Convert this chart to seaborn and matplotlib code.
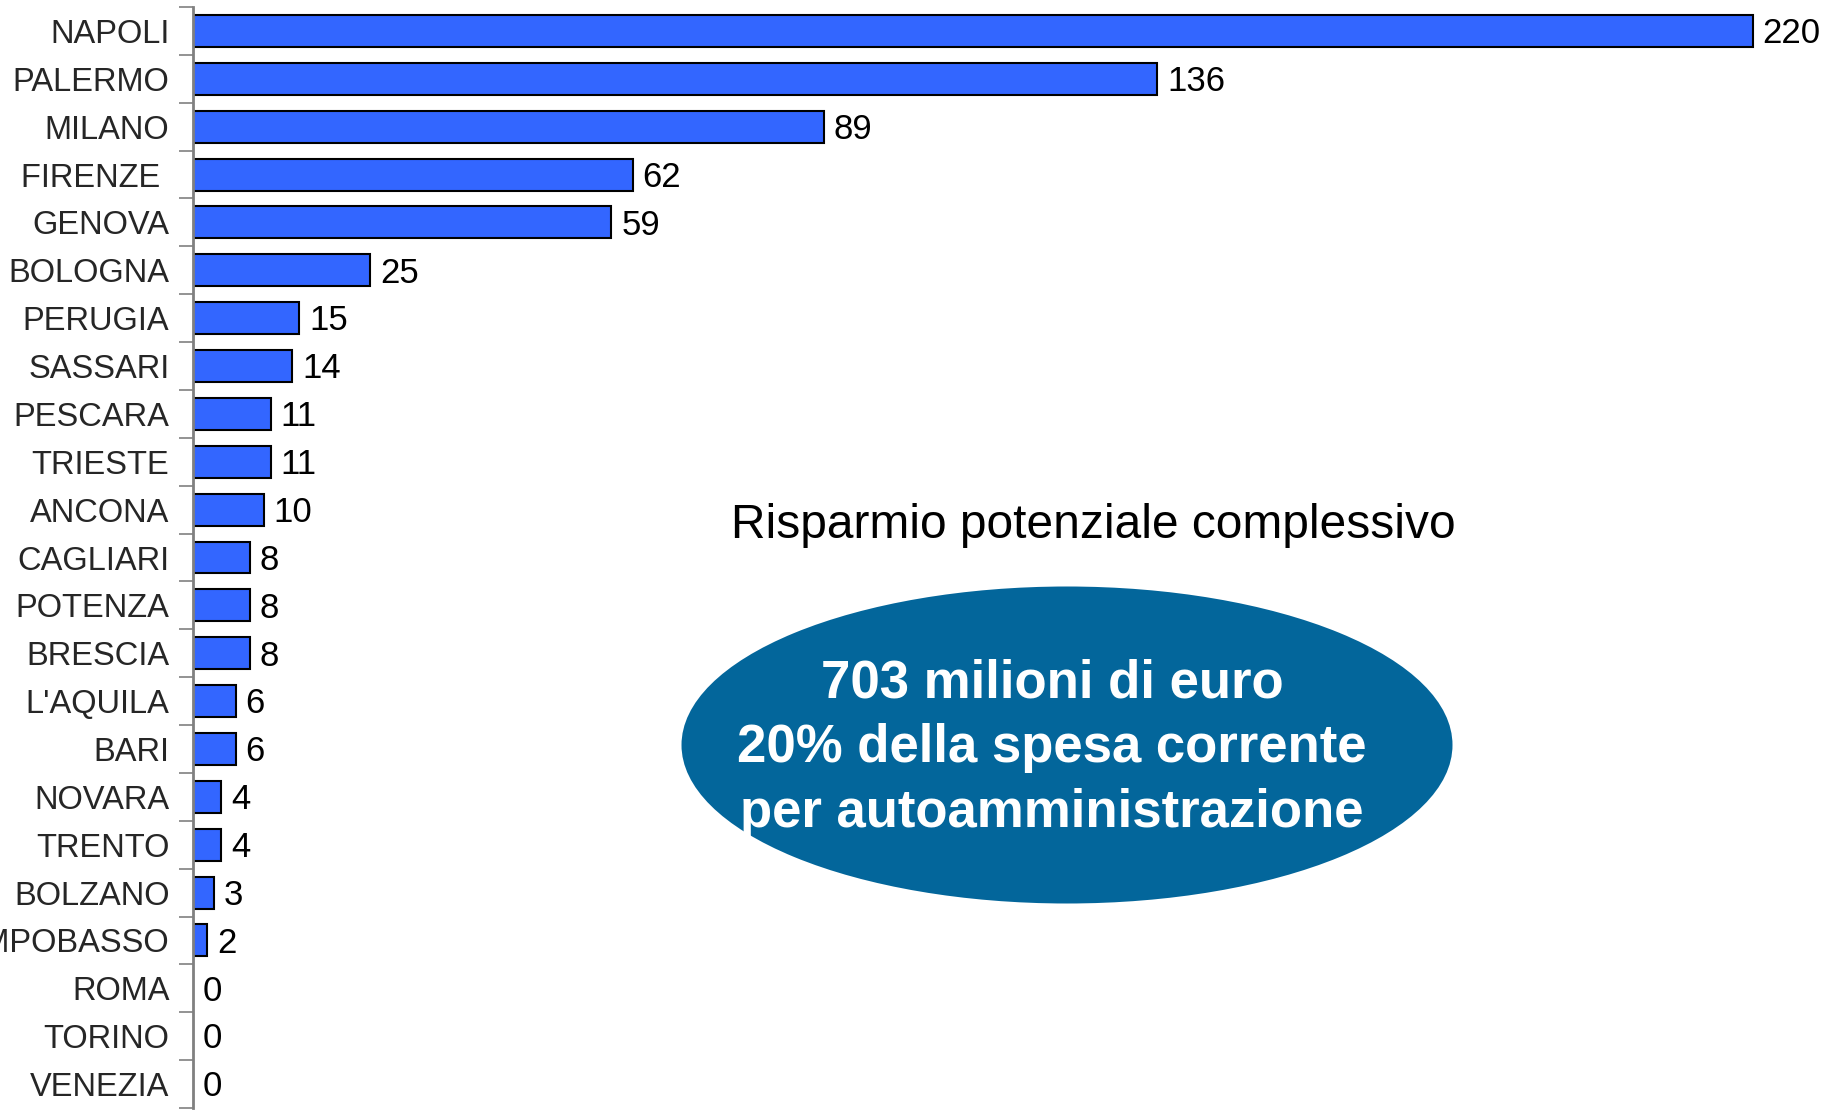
import matplotlib
matplotlib.use("Agg")
import matplotlib.pyplot as plt
import matplotlib.patches as mpatches
import seaborn as sns
import pandas as pd

CITTA = ["NAPOLI", "PALERMO", "MILANO", "FIRENZE ", "GENOVA", "BOLOGNA",
         "PERUGIA", "SASSARI", "PESCARA", "TRIESTE", "ANCONA", "CAGLIARI",
         "POTENZA", "BRESCIA", "L'AQUILA", "BARI", "NOVARA", "TRENTO",
         "BOLZANO", "CAMPOBASSO", "ROMA", "TORINO", "VENEZIA"]
RISPARMIO = [220, 136, 89, 62, 59, 25, 15, 14, 11, 11, 10, 8, 8, 8, 6, 6,
             4, 4, 3, 2, 0, 0, 0]

TITOLO = "Risparmio potenziale complessivo"
BOX_TESTO = "703 milioni di euro\n20% della spesa corrente\nper autoamministrazione"

BAR_COLOR = "#3366FF"
ELLIPSE_COLOR = "#03669B"

sns.set_style("white")
plt.rcParams["font.family"] = ["Liberation Sans", "DejaVu Sans"]

W, H = 1831, 1113
fig = plt.figure(figsize=(W / 100, H / 100), dpi=100)
ax = fig.add_axes([193 / W, 5 / H, 1 - 193 / W, 1101 / H])

df = pd.DataFrame({"citta": CITTA, "valore": RISPARMIO})
sns.barplot(data=df, x="valore", y="citta", orient="h", color=BAR_COLOR,
            saturation=1, edgecolor="black", linewidth=1.5, width=0.667, ax=ax)

etichette = ax.bar_label(ax.containers[0], labels=[str(v) for v in RISPARMIO],
                         padding=7, fontsize=25, color="black")
for t in etichette:
    t.xyann = (7, -2)

ax.set_xlim(0, 231)
ax.set_ylim(len(CITTA) - 0.5, -0.5)
ax.set_xlabel("")
ax.set_ylabel("")
ax.set_xticks([])

for s in ["top", "right", "bottom"]:
    ax.spines[s].set_visible(False)
ax.spines["left"].set_color("#808080")
ax.spines["left"].set_linewidth(2)

ax.tick_params(axis="y", which="major", length=0, pad=17, labelsize=23.5)
ax.set_yticks([i - 0.5 for i in range(len(CITTA) + 1)], minor=True)
ax.tick_params(axis="y", which="minor", length=10, width=1.2, color="#808080",
               left=True)

# riquadro a destra
fig.text(1093 / W, 1 - 526 / H, TITOLO, ha="center", va="center",
         fontsize=34.5, color="black")

ell = mpatches.Ellipse((1067 / W, 1 - 745 / H), 771 / W, 317 / H,
                       transform=fig.transFigure, facecolor=ELLIPSE_COLOR,
                       edgecolor="none", zorder=5)
fig.patches.append(ell)
fig.text(1052 / W, 1 - 748 / H, BOX_TESTO, ha="center", va="center",
         fontsize=38, fontweight="bold", color="white", linespacing=1.38,
         zorder=6)

fig.savefig("out.png", dpi=100)
